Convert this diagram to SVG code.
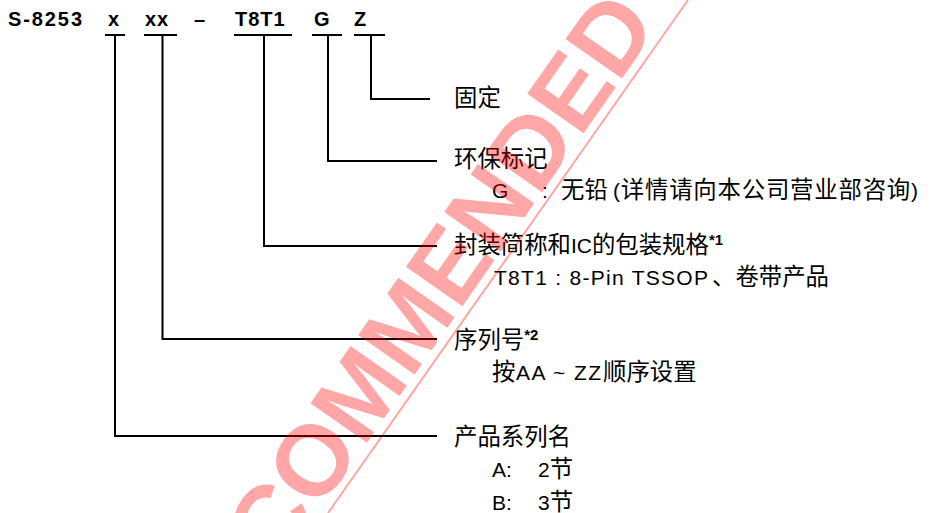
<svg xmlns="http://www.w3.org/2000/svg" width="930" height="513" viewBox="0 0 930 513">
<style>
text{font-family:"Liberation Sans","Noto Sans CJK SC",sans-serif;fill:#000;}
.hd{font-size:20px;font-weight:bold;letter-spacing:1px;}
.t{font-size:21px;}
.cj{font-family:"Noto Sans CJK SC","Noto Sans CJK JP",sans-serif;font-size:23.4px;}
.sup{font-size:15px;font-weight:bold;}
.ln{stroke:#000;stroke-width:2;fill:none;}
.wm{font-family:"Liberation Sans",Arial,sans-serif;font-weight:bold;font-size:100px;fill:#ff0000;fill-opacity:0.35;}
</style>
<rect width="930" height="513" fill="#fff"/>
<g id="code">
<text class="hd" x="8" y="26" textLength="75" lengthAdjust="spacing">S-8253</text>
<text class="hd" x="108" y="26">x</text>
<text class="hd" x="145" y="26">xx</text>
<text class="hd" x="194" y="26">–</text>
<text class="hd" x="235" y="26">T8T1</text>
<text class="hd" x="314" y="26">G</text>
<text class="hd" x="354" y="26">Z</text>
</g>
<g id="connectors" class="ln">
<path d="M105 35H125M115 35V436H437"/>
<path d="M144 35H177M162.5 35V339H437"/>
<path d="M234 35H292M264 35V246H437"/>
<path d="M312 35H342M328 35V161H437"/>
<path d="M354 35H385M371 35V99H430"/>
</g>
<g id="fixed">
<text class="t" x="454" y="106"><tspan class="cj">固定</tspan></text>
</g>
<g id="env">
<text class="t" x="454" y="167"><tspan class="cj">环保标记</tspan></text>
<text class="t" y="198"><tspan x="492">G</tspan><tspan x="542">:</tspan><tspan x="561" class="cj">无铅</tspan></text>
<text class="t" x="613" y="198" textLength="305" lengthAdjust="spacing">(<tspan class="cj">详情请向本公司营业部咨询</tspan>)</text>
</g>
<g id="package">
<text class="t" x="454" y="253"><tspan class="cj">封装简称和</tspan><tspan>IC</tspan><tspan class="cj">的包装规格</tspan><tspan class="sup" dy="-8">*1</tspan></text>
<text class="t" x="494" y="285" textLength="214" lengthAdjust="spacing">T8T1 : 8-Pin TSSOP</text>
<text class="t" x="712" y="285"><tspan class="cj">、卷带产品</tspan></text>
</g>
<g id="serial">
<text class="t" x="454" y="348"><tspan class="cj">序列号</tspan><tspan class="sup" dy="-8">*2</tspan></text>
<text class="t" y="380"><tspan class="cj" x="492">按</tspan></text>
<text class="t" x="516" y="380" textLength="85" lengthAdjust="spacing">AA ~ ZZ</text>
<text class="t" y="380"><tspan class="cj" x="603">顺序设置</tspan></text>
</g>
<g id="series">
<text class="t" x="454" y="445"><tspan class="cj">产品系列名</tspan></text>
<text class="t" y="477"><tspan x="492">A:</tspan><tspan x="538">2</tspan><tspan class="cj">节</tspan></text>
<text class="t" y="510"><tspan x="492">B:</tspan><tspan x="538">3</tspan><tspan class="cj">节</tspan></text>
</g>
<g id="watermark">
<text class="wm" transform="translate(277,571) rotate(-55)">COMMENDED</text>
<line x1="328" y1="513" x2="688" y2="0" stroke="#ff0000" stroke-opacity="0.35" stroke-width="2"/>
</g>
</svg>
